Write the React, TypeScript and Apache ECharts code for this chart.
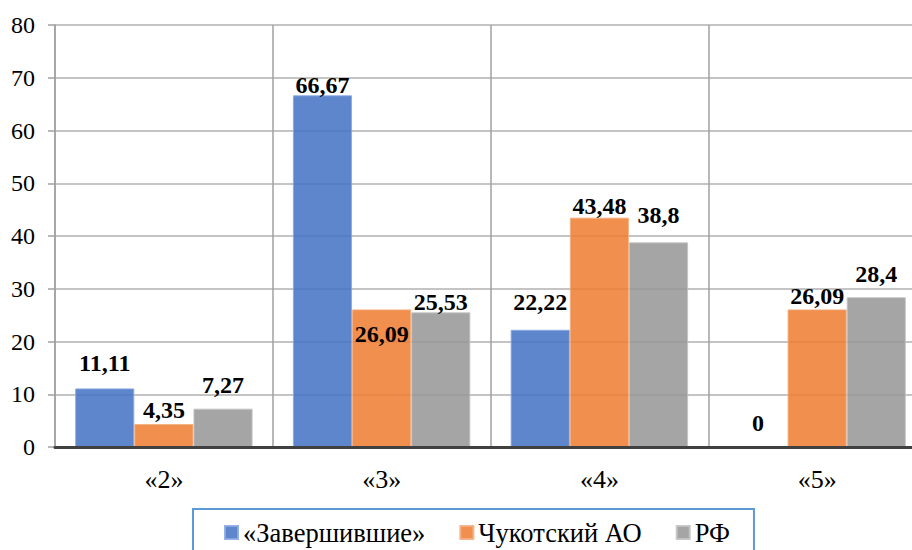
import React, { useEffect, useRef } from "react";
import * as echarts from "echarts";

const categories = ["«2»", "«3»", "«4»", "«5»"];
const seriesNames = ["«Завершившие»", "Чукотский АО", "РФ"];
const finishedValues = [11.11, 66.67, 22.22, 0];
const chukotkaValues = [4.35, 26.09, 43.48, 26.09];
const russiaValues = [7.27, 25.53, 38.8, 28.4];
const yTicks = { min: 0, max: 80, interval: 10 };

// label vertical nudges (px) mimicking the original label placement
const finishedLabelDy = [-13, 2, -16, -12];
const chukotkaLabelDy = [-2, 37, 0, -1];
const russiaLabelDy = [-12, 2, -15, -11];

const FONT = "Times New Roman, Liberation Serif, DejaVu Serif, serif";

function fmt(v: number): string {
  return String(v).replace(".", ",");
}

function makeSeries(
  name: string,
  values: number[],
  dys: number[],
  color: string,
  border: string
) {
  return {
    name,
    type: "bar",
    barGap: "0%",
    barCategoryGap: "18.5%",
    itemStyle: { color, borderColor: border, borderWidth: 1 },
    label: {
      show: true,
      position: "top",
      distance: 0,
      color: "#000",
      fontFamily: FONT,
      fontWeight: "bold",
      fontSize: 24,
      formatter: (p: any) => fmt(p.value),
    },
    data: values.map((v, i) => ({ value: v, label: { offset: [0, dys[i]] } })),
  };
}

export default function App() {
  const ref = useRef<HTMLDivElement>(null);
  useEffect(() => {
    if (!ref.current) return;
    const chart = echarts.init(ref.current, undefined, { renderer: "svg" });
    chart.setOption({
      animation: false,
      backgroundColor: "#fff",
      textStyle: { fontFamily: FONT },
      grid: { left: 55, top: 25, right: 0, bottom: 103, containLabel: false },
      legend: {
        data: seriesNames,
        left: 193,
        top: 509,
        orient: "horizontal",
        icon: "rect",
        itemWidth: 13,
        itemHeight: 13,
        itemGap: 34,
        borderColor: "#5B9BD5",
        borderWidth: 2,
        padding: [10, 24, 30, 31],
        textStyle: { fontFamily: FONT, fontSize: 26.5, color: "#000" },
      },
      xAxis: {
        type: "category",
        data: categories,
        z: 5,
        axisLine: { show: true, lineStyle: { color: "#404040", width: 3 } },
        axisTick: { show: false },
        splitLine: { show: true, lineStyle: { color: "#a0a0a0", width: 1.5 } },
        axisLabel: { fontFamily: FONT, fontSize: 26, color: "#000", margin: 19 },
      },
      yAxis: {
        type: "value",
        min: yTicks.min,
        max: yTicks.max,
        interval: yTicks.interval,
        axisLine: { show: true, lineStyle: { color: "#a0a0a0", width: 1.5 } },
        axisTick: { show: true, length: 7, lineStyle: { color: "#a0a0a0", width: 1.5 } },
        splitLine: { show: true, lineStyle: { color: "#c4c4c4", width: 2 } },
        axisLabel: { fontFamily: FONT, fontSize: 24, color: "#000", margin: 20 },
      },
      series: [
        makeSeries(seriesNames[0], finishedValues, finishedLabelDy, "rgba(68,114,196,0.86)", "rgba(140,170,225,0.9)"),
        makeSeries(seriesNames[1], chukotkaValues, chukotkaLabelDy, "rgba(237,125,49,0.86)", "rgba(245,175,130,0.9)"),
        makeSeries(seriesNames[2], russiaValues, russiaLabelDy, "rgba(150,150,150,0.86)", "rgba(195,195,195,0.9)"),
      ],
    });
    return () => chart.dispose();
  }, []);
  return (
    <div
      style={{ position: "fixed", left: 0, top: 0, width: 912, height: 550, overflow: "hidden" }}
    >
      <div ref={ref} style={{ width: 926, height: 550 }} />
    </div>
  );
}
